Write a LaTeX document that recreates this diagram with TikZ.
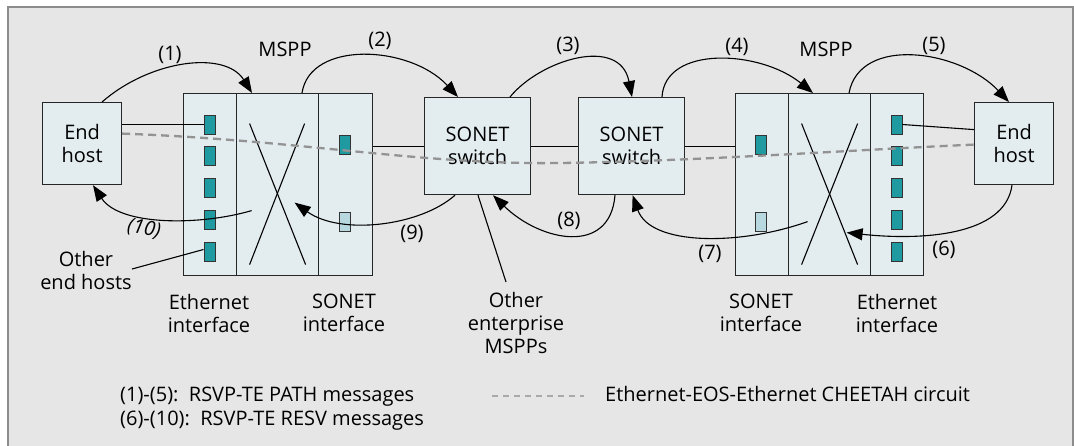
\documentclass[tikz,border=0pt]{standalone}
\usepackage{fontspec}
\setmainfont{Open Sans}
\usetikzlibrary{arrows.meta,calc}
\definecolor{bgpanel}{HTML}{E6E6E6}
\definecolor{framegray}{HTML}{8C8C8C}
\definecolor{boxfill}{HTML}{E3ECEF}
\definecolor{portteal}{HTML}{1F9AA0}
\definecolor{portlight}{HTML}{B8D8E0}
\definecolor{circuitgray}{HTML}{939393}
\begin{document}
\begin{tikzpicture}[x=1pt,y=-1pt,
  font=\fontsize{20}{23}\selectfont,
  box/.style={draw=black!85, fill=boxfill, line width=1.2pt, inner sep=0pt,
    anchor=north west, align=center},
  port/.style={draw=black!80, fill=portteal, line width=1pt,
    minimum width=11pt, minimum height=19pt, inner sep=0pt},
  sport/.style={port, fill=portlight},
  msg/.style={line width=1.1pt, -{Triangle[length=16pt,width=12pt]}},
  link/.style={line width=1.1pt},
  lbl/.style={inner sep=0pt, align=center},
  circuit/.style={draw=circuitgray, line width=2.3pt, dash pattern=on 8pt off 5pt},
]
\useasboundingbox (0,0) rectangle (1074,445);
% panel
\fill[bgpanel] (8,7) rectangle (1073,460);
\draw[framegray, line width=1.6pt] (8,460) -- (8,7) -- (1073,7) -- (1073,460);

% end hosts
\node[box, minimum width=79pt, minimum height=82pt] (lhost) at (42,102) {End\\host};
\node[box, minimum width=79pt, minimum height=82pt] (rhost) at (974,102) {End\\host};

% left MSPP: Ethernet interface | cross-connect | SONET interface
\node[box, minimum width=53pt, minimum height=182pt] (leth) at (183,93) {};
\node[box, minimum width=82pt, minimum height=182pt] (lx)   at (236,93) {};
\node[box, minimum width=54pt, minimum height=182pt] (lson) at (318,93) {};

% SONET switches
\node[box, minimum width=106pt, minimum height=97pt] (sw1) at (424,97) {SONET\\switch};
\node[box, minimum width=106pt, minimum height=97pt] (sw2) at (578,97) {SONET\\switch};

% right MSPP: SONET interface | cross-connect | Ethernet interface
\node[box, minimum width=53pt, minimum height=182pt] (rson) at (735,93) {};
\node[box, minimum width=82pt, minimum height=182pt] (rx)   at (788,93) {};
\node[box, minimum width=53pt, minimum height=182pt] (reth) at (870,93) {};

% cross-connects
\draw[link] ($(lx.center)+(-28,-61)$) -- ($(lx.center)+(28,80)$);
\draw[link] ($(lx.center)+(27,-61)$) -- ($(lx.center)+(-28,80)$);
\draw[link] ($(rx.center)+(-28,-61)$) -- ($(rx.center)+(28,80)$);
\draw[link] ($(rx.center)+(28,-61)$) -- ($(rx.center)+(-28,80)$);

% ports
\foreach \i/\y in {1/124.5,2/156,3/188,4/219.5,5/251.5}{
  \node[port] (lp\i) at (209.5,\y) {};
  \node[port] (rp\i) at (896.5,\y) {};
}
\node[port]  (ls1) at (345,145) {};
\node[sport] (ls2) at (345,222) {};
\node[port]  (rs1) at (761,145) {};
\node[sport] (rs2) at (761,222) {};

% physical links
\draw[link] (lp1.west) -- (lp1.west -| lhost.east);
\draw[link] (rp1.east) -- ($(rhost.west)+(0,-14)$);
\draw[link] (lson.east |- sw1.west) -- (sw1.west);
\draw[link] (sw1.east) -- (sw2.west);
\draw[link] (sw2.east) -- (sw2.east -| rson.west);

% CHEETAH circuit
\draw[circuit] ($(lhost.east)+(0,-10)$) .. controls (300,140) and (420,165) .. (560,163)
  .. controls (700,161) and (850,150) .. ($(rhost.west)+(0,1)$);

% PATH messages
\draw[msg] ($(lhost.north west)+(60,0)$) .. controls +(48,-42) and +(-27,-43) .. ($(lx.north west)+(16,0)$);
\draw[msg] ($(lx.north west)+(66,0)$) .. controls +(8,-53) and +(-48,-52) .. ($(sw1.north west)+(34,0)$);
\draw[msg] ($(sw1.north west)+(86,0)$) .. controls +(30,-37) and +(-12,-62) .. ($(sw2.north west)+(54,0)$);
\draw[msg] ($(sw2.north west)+(84,0)$) .. controls +(3,-52) and +(-53,-43) .. ($(rx.north west)+(25,0)$);
\draw[msg] ($(rx.north west)+(61,0)$) .. controls +(11,-58) and +(-49,-52) .. ($(rhost.north west)+(35,0)$);

% RESV messages
\draw[msg] ($(rhost.south west)+(38,0)$) .. controls +(-7,51) and +(74,8) .. ($(rx.center)+(17,48)$);
\draw[msg] ($(rx.center)+(-22,37)$) .. controls +(-67,24) and +(18,51) .. ($(sw2.south)+(1,0)$);
\draw[msg] ($(sw2.south west)+(37,0)$) .. controls +(-5,61) and +(47,46) .. ($(sw1.south west)+(69,0)$);
\draw[msg] ($(sw1.south west)+(31,0)$) .. controls +(-35,31) and +(46,33) .. ($(lx.center)+(17,18)$);
\draw[msg] ($(lx.center)+(-26,26)$) .. controls +(-51,15) and +(27,41) .. ($(lhost.south west)+(51,0)$);

% message numbers
\node[lbl] (n1) at (170,55) {(1)};
\node[lbl] (n2) at (380,41) {(2)};
\node[lbl] (n3) at (568,46) {(3)};
\node[lbl] (n4) at (737,47) {(4)};
\node[lbl] (n5) at (934,46) {(5)};
\node[lbl] (n6) at (944,250) {(6)};
\node[lbl] (n7) at (710,254) {(7)};
\node[lbl] (n8) at (569,221) {(8)};
\node[lbl] (n9) at (412,234) {(9)};
\node[lbl, rotate=-10] (n10) at (144,229) {\itshape(10)};

% captions
\node[lbl] (lmspp) at (285,49) {MSPP};
\node[lbl] (rmspp) at (826,49) {MSPP};
\node[lbl] (lethcap) at (209,313) {Ethernet\\interface};
\node[lbl] (lsoncap) at (344,313) {SONET\\interface};
\node[lbl] (rsoncap) at (761,313) {SONET\\interface};
\node[lbl] (rethcap) at (897,313) {Ethernet\\interface};
\node[lbl] (othhosts) at (86,270) {Other\\end hosts};
\node[lbl] (othmspp) at (516,323) {Other\\enterprise\\MSPPs};
\coordinate (othhostsend) at (132,269);
\coordinate (othmsppend) at (506,282);
\draw[link] (othhostsend) -- ($(lp5.west)+(0,-2)$);
\draw[link] ($(sw1.south west)+(54,0)$) -- (othmsppend);

% legend
\node[inner sep=0pt, anchor=base west] (leg1) at (120,401) {(1)-(5):\ \ RSVP-TE PATH messages};
\node[inner sep=0pt, anchor=base west] (leg2) at (120,425) {(6)-(10):\ \ RSVP-TE RESV messages};
\node[inner sep=0pt, anchor=base west] (leg3) at (605,401) {Ethernet-EOS-Ethernet CHEETAH circuit};
\coordinate (legdashA) at (492,396);
\coordinate (legdashB) at (584,396);
\draw[circuit, draw=circuitgray!80, line width=1.6pt, dash pattern=on 6pt off 5pt] (legdashA) -- (legdashB);
\end{tikzpicture}
\end{document}
